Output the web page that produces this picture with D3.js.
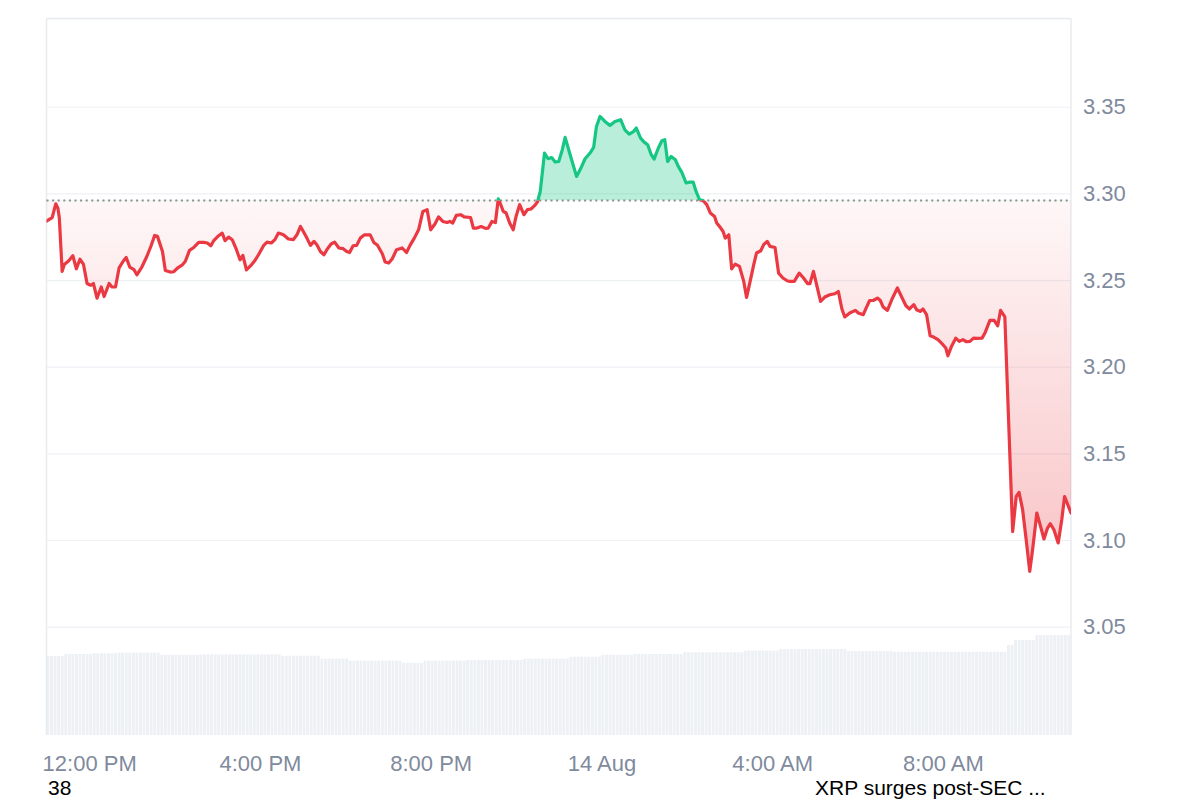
<!DOCTYPE html>
<html>
<head>
<meta charset="utf-8">
<script src="https://cdn.jsdelivr.net/npm/d3@7"></script>
<style>
  html, body { margin: 0; padding: 0; background: #ffffff; }
  svg { display: block; font-family: "Liberation Sans", Arial, Helvetica, sans-serif; }
</style>
</head>
<body>
<svg id="chart" width="1200" height="800"></svg>
<script>
// ---------------- DATA ----------------
const startTime = "2025-08-13T11:00:00";
const referencePrice = 3.2959;

// minutes after start
const minutes = [0,8,13,16,18,22,25,31,37,42,47,52,57,62,66,71,77,81,88,92,97,102,108,112,117,123,127,134,141,147,152,156,163,167,174,179,184,191,195,201,207,214,221,226,231,235,242,247,251,256,261,267,272,276,281,287,293,298,305,310,316,321,326,333,340,347,352,357,361,366,371,376,380,385,390,395,400,405,411,417,422,426,431,436,441,447,455,460,465,472,476,481,486,492,500,506,511,517,523,529,535,540,546,551,557,563,567,571,576,582,587,596,600,605,611,617,621,626,631,635,638,642,646,651,656,660,665,671,676,681,686,690,694,700,705,710,715,720,725,729,736,745,750,757,764,769,773,778,785,792,799,807,813,819,825,829,835,840,845,850,854,860,865,869,873,878,884,888,893,899,904,909,913,918,923,928,933,939,942,947,951,954,959,963,968,974,980,984,989,994,998,1004,1008,1013,1017,1024,1029,1035,1041,1045,1051,1058,1064,1070,1073,1078,1083,1088,1094,1101,1108,1113,1118,1122,1129,1137,1141,1148,1152,1157,1162,1168,1172,1176,1182,1188,1196,1202,1208,1213,1219,1223,1228,1232,1237,1242,1247,1253,1260,1264,1267,1272,1278,1283,1288,1293,1298,1303,1308,1315,1319,1326,1332,1337,1341,1347,1358,1363,1367,1372,1377,1382,1386,1392,1397,1402,1407,1411,1416,1422,1427,1431,1440];

const prices = [3.284,3.286,3.294,3.2915,3.286,3.255,3.259,3.261,3.264,3.2565,3.262,3.259,3.248,3.247,3.248,3.2396,3.246,3.2405,3.248,3.246,3.246,3.257,3.261,3.263,3.2575,3.256,3.253,3.2575,3.2636,3.2698,3.2757,3.2752,3.2665,3.2555,3.2546,3.2548,3.2569,3.2588,3.2607,3.2671,3.2688,3.2717,3.2717,3.2714,3.2698,3.2727,3.2756,3.2771,3.2727,3.2748,3.2733,3.2675,3.2617,3.2642,3.2559,3.2583,3.2613,3.2646,3.2698,3.2719,3.2714,3.2733,3.2771,3.2761,3.2737,3.2733,3.2761,3.2809,3.278,3.2742,3.27,3.2723,3.2704,3.2665,3.2646,3.2681,3.2708,3.2719,3.2685,3.2681,3.2665,3.2659,3.2698,3.27,3.2742,3.2761,3.2761,3.2717,3.2702,3.2652,3.2604,3.2598,3.2623,3.2675,3.2685,3.2659,3.27,3.2742,3.279,3.2896,3.2906,3.279,3.2823,3.2864,3.2838,3.2832,3.2838,3.2829,3.2873,3.2877,3.2864,3.2861,3.28,3.28,3.2809,3.2798,3.28,3.2838,3.2832,3.2969,3.294,3.2896,3.2887,3.2829,3.279,3.2867,3.2935,3.2877,3.2906,3.291,3.2929,3.295,3.3011,3.3233,3.32,3.3207,3.3181,3.3184,3.3252,3.3323,3.3223,3.3098,3.3136,3.32,3.3233,3.3265,3.3386,3.3444,3.3415,3.3392,3.3415,3.3425,3.3367,3.3342,3.3357,3.3377,3.3319,3.3296,3.3281,3.3223,3.3198,3.3262,3.3304,3.331,3.3184,3.3213,3.3194,3.3156,3.3121,3.306,3.3065,3.3065,3.3011,3.2963,3.2958,3.2935,3.2887,3.2867,3.2829,3.2804,3.278,3.2742,3.2761,3.2565,3.2592,3.2579,3.2492,3.24,3.2492,3.2588,3.2656,3.2669,3.2704,3.2723,3.2694,3.2688,3.254,3.2512,3.2496,3.2492,3.2492,3.254,3.2512,3.2479,3.2479,3.255,3.2463,3.2377,3.2402,3.2415,3.2421,3.2434,3.2333,3.2287,3.231,3.2325,3.231,3.23,3.2338,3.2382,3.2382,3.2396,3.2382,3.2344,3.2325,3.2386,3.2454,3.2402,3.2352,3.2333,3.2358,3.2329,3.2319,3.2333,3.23,3.2179,3.2171,3.2156,3.2127,3.2108,3.2063,3.2117,3.2165,3.2146,3.2156,3.2144,3.2146,3.2165,3.2163,3.2165,3.2194,3.2267,3.2267,3.2236,3.2325,3.2287,3.1049,3.1251,3.1275,3.1175,3.1002,3.0819,3.0944,3.1156,3.1082,3.1006,3.1069,3.1094,3.1059,3.0983,3.1117,3.1251,3.1156];

// volume per 5-minute bar (billions, 24h rolling)
const volumes = [
7.9,7.9,7.9,7.9,7.9,
8.1,8.1,8.1,8.1,8.1,8.1,8.1,8.1,
8.17,8.17,8.17,8.17,8.17,8.17,8.17,
8.23,8.23,8.23,8.23,8.23,8.23,8.23,8.23,8.23,8.23,8.23,8.23,
8.03,8.03,8.03,8.03,8.03,8.03,8.03,8.03,8.03,8.03,8.03,8.03,
8.07,8.07,8.07,8.07,8.07,8.07,8.07,8.07,8.07,8.07,8.07,8.07,8.07,8.07,8.07,8.07,8.07,8.07,8.07,8.07,8.07,8.07,
7.93,7.93,7.93,7.93,7.93,7.93,7.93,7.93,7.93,7.93,7.93,
7.63,7.63,7.63,7.63,7.63,7.63,7.63,7.63,
7.43,7.43,7.43,7.43,7.43,7.43,7.43,7.43,7.43,7.43,7.43,7.43,7.43,7.43,7.43,
7.23,7.23,7.23,7.23,7.23,7.23,
7.43,7.43,7.43,7.43,7.43,7.43,7.43,7.43,7.43,7.43,7.43,7.43,
7.5,7.5,7.5,7.5,7.5,7.5,7.5,7.5,7.5,7.5,7.5,7.5,7.5,7.5,7.5,7.5,
7.63,7.63,7.63,7.63,7.63,7.63,7.63,7.63,7.63,7.63,7.63,7.63,7.63,
7.83,7.83,7.83,7.83,7.83,7.83,7.83,7.83,7.83,
8.03,8.03,8.03,8.03,8.03,8.03,8.03,8.03,8.03,
8.1,8.1,8.1,8.1,8.1,8.1,8.1,8.1,8.1,8.1,8.1,8.1,8.1,8.1,
8.27,8.27,8.27,8.27,8.27,8.27,8.27,8.27,8.27,8.27,8.27,8.27,8.27,8.27,8.27,8.27,8.27,
8.43,8.43,8.43,8.43,8.43,8.43,8.43,8.43,8.43,8.43,
8.6,8.6,8.6,8.6,8.6,8.6,8.6,8.6,8.6,8.6,8.6,8.6,8.6,8.6,8.6,8.6,8.6,8.6,8.6,
8.4,8.4,8.4,8.4,8.4,8.4,8.4,8.4,8.4,8.4,8.4,8.4,8.4,
8.33,8.33,8.33,8.33,8.33,8.33,8.33,8.33,8.33,8.33,8.33,8.33,8.33,8.33,8.33,8.33,8.33,8.33,8.33,8.33,8.33,8.33,8.33,8.33,8.33,8.33,8.33,8.33,8.33,8.33,8.33,8.33,
9.0,9.0,
9.5,9.5,9.5,9.5,9.5,9.5,
10.0,10.0,10.0,10.0,10.0,10.0,10.0,10.0,10.0,10.0,10.0
];
const volumeStepMinutes = 5;

const yTickValues = [3.35, 3.30, 3.25, 3.20, 3.15, 3.10, 3.05];
const yTickLabels = ["3.35", "3.30", "3.25", "3.20", "3.15", "3.10", "3.05"];
const xTickTimes = ["2025-08-13T12:00:00","2025-08-13T16:00:00","2025-08-13T20:00:00","2025-08-14T00:00:00","2025-08-14T04:00:00","2025-08-14T08:00:00"];
const xTickLabels = ["12:00 PM", "4:00 PM", "8:00 PM", "14 Aug", "4:00 AM", "8:00 AM"];

const footLeft = "38";
const footRight = "XRP surges post-SEC ...";

// ---------------- LAYOUT ----------------
const L = 46.5, R = 1071, T = 18.5, B = 735;
const green = "#16c784", red = "#ea3943";
const gray = "#808a9d";
const FS = 22;
const FOOT_FS = 21;

const t0 = new Date(startTime);
const toDate = m => new Date(t0.getTime() + m * 60000);
const data = minutes.map((m, i) => ({ t: toDate(m), p: prices[i] }));

const x = d3.scaleTime().domain([t0, toDate(1440)]).range([L, R]);
const y = d3.scaleLinear().domain([2.9875, 3.4012]).range([B, 18]);
const yVol = d3.scaleLinear().domain([0, 10]).range([B, 635]);

const svg = d3.select("#chart");
const defs = svg.append("defs");

const baseY = y(referencePrice);

defs.append("clipPath").attr("id", "plot").append("rect")
  .attr("x", L).attr("y", T).attr("width", R - L).attr("height", B - T);
defs.append("clipPath").attr("id", "above").append("rect")
  .attr("x", L).attr("y", T).attr("width", R - L).attr("height", baseY - T);
defs.append("clipPath").attr("id", "below").append("rect")
  .attr("x", L).attr("y", baseY).attr("width", R - L).attr("height", B - baseY);

const minP = d3.min(prices);
const grad = defs.append("linearGradient").attr("id", "redGrad")
  .attr("gradientUnits", "userSpaceOnUse")
  .attr("x1", 0).attr("x2", 0).attr("y1", baseY).attr("y2", y(minP));
grad.append("stop").attr("offset", 0).attr("stop-color", red).attr("stop-opacity", 0.04);
grad.append("stop").attr("offset", 1).attr("stop-color", red).attr("stop-opacity", 0.3);

// gridlines + right axis labels
const yAxis = d3.axisRight(y).tickValues(yTickValues)
  .tickFormat((d, i) => yTickLabels[i])
  .tickSize(-(R - L)).tickPadding(12);
const gy = svg.append("g").attr("transform", `translate(${R},0)`).call(yAxis);
gy.select(".domain").remove();
gy.selectAll("line").attr("stroke", "#eef1f4").attr("stroke-width", 1.2);
gy.selectAll("text").attr("fill", gray).attr("font-size", FS)
  .attr("font-family", '"Liberation Sans", Arial, sans-serif');

// volume bars
const step = x(toDate(volumeStepMinutes)) - x(toDate(0));
svg.append("g").attr("clip-path", "url(#plot)")
  .selectAll("rect").data(volumes).join("rect")
  .attr("x", (d, i) => x(toDate(i * volumeStepMinutes)))
  .attr("width", step * 0.82)
  .attr("y", d => yVol(d))
  .attr("height", d => B - yVol(d))
  .attr("fill", "#edf0f4");

// frame
const frame = svg.append("g").attr("stroke", "#e8ebef").attr("stroke-width", 1.5).attr("fill", "none");
frame.append("line").attr("x1", L).attr("x2", R).attr("y1", T).attr("y2", T);
frame.append("line").attr("x1", L).attr("x2", L).attr("y1", T).attr("y2", B);
frame.append("line").attr("x1", R).attr("x2", R).attr("y1", T).attr("y2", B);

// areas
const area = d3.area().x(d => x(d.t)).y0(baseY).y1(d => y(d.p));
svg.append("path").datum(data).attr("clip-path", "url(#above)")
  .attr("d", area).attr("fill", green).attr("fill-opacity", 0.3);
svg.append("path").datum(data).attr("clip-path", "url(#below)")
  .attr("d", area).attr("fill", "url(#redGrad)");

// reference dotted line
svg.append("line").attr("x1", L).attr("x2", R).attr("y1", baseY).attr("y2", baseY)
  .attr("stroke", "#8e8e8e").attr("stroke-width", 2).attr("stroke-dasharray", "2 3.6");

// price line
const line = d3.line().x(d => x(d.t)).y(d => y(d.p));
svg.append("path").datum(data).attr("clip-path", "url(#above)")
  .attr("d", line).attr("fill", "none").attr("stroke", green)
  .attr("stroke-width", 3.2).attr("stroke-linejoin", "round").attr("stroke-linecap", "round");
svg.append("path").datum(data).attr("clip-path", "url(#below)")
  .attr("d", line).attr("fill", "none").attr("stroke", red)
  .attr("stroke-width", 3.2).attr("stroke-linejoin", "round").attr("stroke-linecap", "round");

// x axis
const xTicks = xTickTimes.map(s => new Date(s));
const xAxis = d3.axisBottom(x).tickValues(xTicks)
  .tickFormat((d, i) => xTickLabels[i]).tickSize(0).tickPadding(20.7);
const gx = svg.append("g").attr("transform", `translate(0,${B})`).call(xAxis);
gx.select(".domain").remove();
gx.selectAll("text").attr("fill", gray).attr("font-size", FS)
  .attr("font-family", '"Liberation Sans", Arial, sans-serif');

// footer texts
svg.append("text").attr("x", 48).attr("y", 795.3).attr("font-size", FOOT_FS)
  .attr("fill", "#000").text(footLeft);
svg.append("text").attr("x", 815).attr("y", 795.3).attr("font-size", FOOT_FS)
  .attr("fill", "#000").text(footRight);
</script>
</body>
</html>
